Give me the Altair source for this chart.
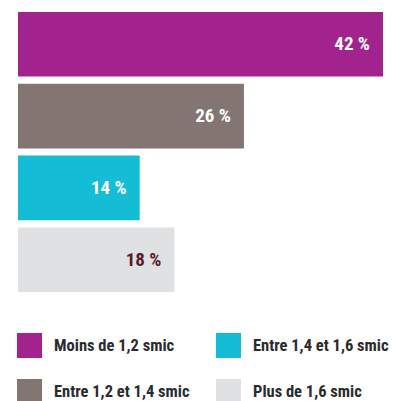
import altair as alt
import pandas as pd

categories = ["Moins de 1,2 smic", "Entre 1,2 et 1,4 smic", "Entre 1,4 et 1,6 smic", "Plus de 1,6 smic"]
values = [42, 26, 14, 18]
bar_colors = ["#a3238e", "#837571", "#14bcd6", "#e0e1e3"]
label_colors = ["#ffffff", "#ffffff", "#ffffff", "#5b1a2b"]
labels = [f"{v} %" for v in values]

df = pd.DataFrame({"cat": categories, "val": values, "lab": labels, "lc": label_colors})

FONT = "Roboto Condensed, Liberation Sans Narrow, DejaVu Sans Condensed, Roboto, sans-serif"

base = alt.Chart(df)
x = alt.X("val:Q", scale=alt.Scale(domain=[0, 42], nice=False, zero=True), axis=None)
y = alt.Y("cat:N", sort=categories, scale=alt.Scale(paddingInner=0.1, paddingOuter=0), axis=None)

bars = base.mark_bar().encode(
    x=x, y=y,
    color=alt.Color("cat:N", scale=alt.Scale(domain=categories, range=bar_colors),
                    legend=alt.Legend(title=None, orient="none", legendX=-1, legendY=321,
                                      columns=2, symbolType="square", symbolSize=625,
                                      symbolStrokeWidth=0, labelFontSize=16.5, labelFont=FONT,
                                      labelFontWeight="bold", labelColor="#2b2b2b",
                                      labelOffset=12, rowPadding=21, columnPadding=26,
                                      padding=0, labelLimit=300)),
)
text = base.mark_text(align="right", baseline="middle", dx=-13, fontSize=19, font=FONT,
                      fontWeight="bold").encode(
    x=x, y=y, text="lab:N", color=alt.Color("lc:N", scale=None),
)

chart = alt.layer(bars, text).resolve_scale(color="independent").properties(
    width=365, height=280,
    padding={"left": 10, "top": 4, "right": 7, "bottom": 120},
    autosize=alt.AutoSizeParams(type="none"),
).configure_view(stroke=None)

chart.save("out.html", embed_options={"renderer": "svg", "actions": False})
